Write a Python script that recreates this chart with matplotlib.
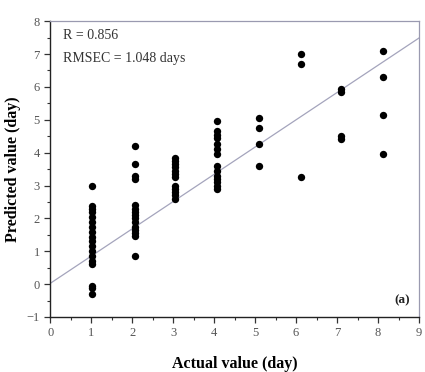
import matplotlib
matplotlib.use("Agg")
import matplotlib.pyplot as plt
from matplotlib.ticker import MultipleLocator

plt.rcParams['font.family'] = ['Liberation Serif', 'DejaVu Serif']

# Actual value (day) per column
col_x = [1.03, 2.08, 3.05, 4.07, 5.1, 6.13, 7.1, 8.13]
# Predicted values per column
pred_1 = [3.0, 2.38, 2.28, 2.18, 2.05, 1.9, 1.75, 1.6, 1.42, 1.3, 1.15, 1.0, 0.85, 0.7, 0.6,
          -0.05, -0.12, -0.3]
pred_2 = [4.2, 3.65, 3.3, 3.2, 2.4, 2.3, 2.2, 2.1, 2.0, 1.9, 1.75, 1.65, 1.55, 1.45, 0.85]
pred_3 = [3.85, 3.75, 3.65, 3.55, 3.45, 3.35, 3.25, 3.0, 2.9, 2.8, 2.7, 2.6]
pred_4 = [4.95, 4.65, 4.55, 4.45, 4.25, 4.1, 3.95, 3.6, 3.45, 3.3, 3.2, 3.1, 3.0, 2.9]
pred_5 = [5.05, 4.75, 4.25, 3.6]
pred_6 = [7.0, 6.7, 3.25]
pred_7 = [5.95, 5.85, 4.5, 4.4]
pred_8 = [7.1, 6.3, 5.15, 3.95]
pred_cols = [pred_1, pred_2, pred_3, pred_4, pred_5, pred_6, pred_7, pred_8]

# Fitted line
fit_intercept = 0.02
fit_slope = 0.83
line_x = [0, 9]

x_ticks = list(range(0, 10))
y_ticks = list(range(-1, 9))
stats_lines = ["R = 0.856", "RMSEC = 1.048 days"]
panel_label = "(a)"

fig = plt.figure(figsize=(4.25, 3.72), dpi=100)
ax = fig.add_axes([0.118, 0.148, 0.868, 0.795])

for cx, ys in zip(col_x, pred_cols):
    ax.scatter([cx] * len(ys), ys, s=28, color='black', zorder=3, linewidths=0)

ax.plot(line_x, [fit_intercept + fit_slope * v for v in line_x],
        color='#a4a4bc', lw=0.9, zorder=2)

ax.set_xlim(0, 9)
ax.set_ylim(-1, 8)
ax.set_xticks(x_ticks)
ax.set_yticks(y_ticks)
ax.xaxis.set_minor_locator(MultipleLocator(0.5))
ax.yaxis.set_minor_locator(MultipleLocator(0.5))
ax.tick_params(which='major', direction='out', length=4, width=0.9,
               labelsize=9, labelcolor='#555555', color='#333333',
               top=False, right=False)
ax.tick_params(which='minor', direction='out', length=2.2, width=0.8,
               color='#333333', top=False, right=False)
for side in ['left', 'bottom']:
    ax.spines[side].set_color('#222222')
    ax.spines[side].set_linewidth(1.0)
for side in ['top', 'right']:
    ax.spines[side].set_color('#9a9ab0')
    ax.spines[side].set_linewidth(0.9)

ax.set_xlabel("Actual value (day)", fontsize=11.5, fontweight='bold', labelpad=12)
ax.set_ylabel("Predicted value (day)", fontsize=11.5, fontweight='bold', labelpad=4)

ax.text(0.035, 0.975, stats_lines[0], transform=ax.transAxes, ha='left', va='top',
        fontsize=10, color='#333333')
ax.text(0.035, 0.895, stats_lines[1], transform=ax.transAxes, ha='left', va='top',
        fontsize=10, color='#333333')
ax.text(0.975, 0.035, panel_label, transform=ax.transAxes, ha='right', va='bottom',
        fontsize=9.5, fontweight='bold', color='#222222')

fig.savefig("out.png", dpi=100)
